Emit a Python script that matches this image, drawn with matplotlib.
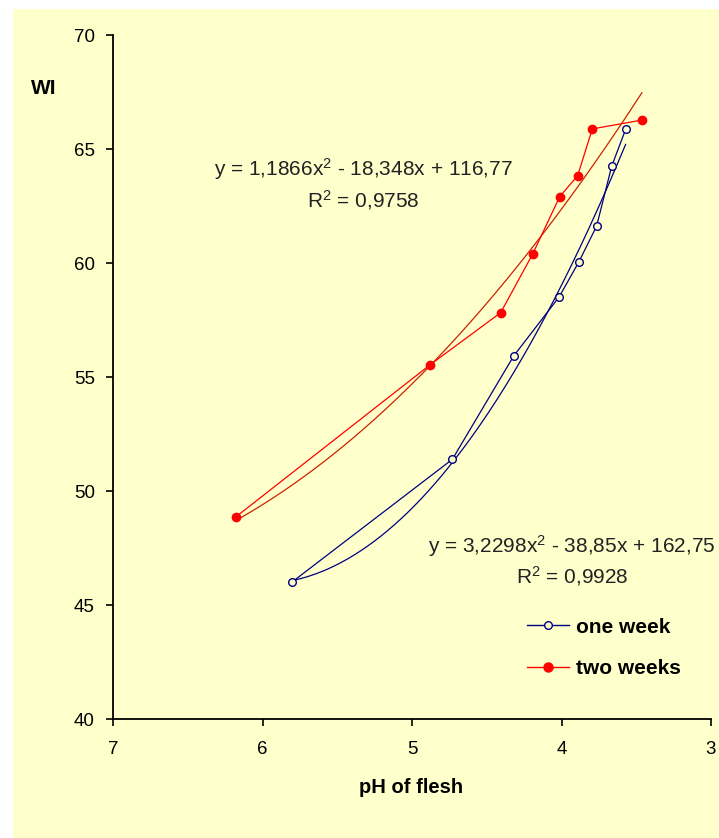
import matplotlib
matplotlib.use("Agg")
import matplotlib.pyplot as plt
import numpy as np
from matplotlib.lines import Line2D

# ---- data ----
ph_one_week = [5.80, 4.73, 4.32, 4.015, 3.883, 3.765, 3.664, 3.571]
wi_one_week = [46.02, 51.39, 55.92, 58.52, 60.06, 61.62, 64.25, 65.86]
ph_two_weeks = [6.177, 4.88, 4.407, 4.193, 4.012, 3.892, 3.794, 3.462]
wi_two_weeks = [48.87, 55.53, 57.82, 60.39, 62.91, 63.83, 65.88, 66.27]
coef_one_week = [3.2298, -38.85, 162.75]
coef_two_weeks = [1.1866, -18.348, 116.77]
eq_one_week = "y = 3,2298x$^2$ - 38,85x + 162,75\nR$^2$ = 0,9928"
eq_two_weeks = "y = 1,1866x$^2$ - 18,348x + 116,77\nR$^2$ = 0,9758"
series_labels = ["one week", "two weeks"]
x_ticks = [7, 6, 5, 4, 3]
y_ticks = [40, 45, 50, 55, 60, 65, 70]

BG = "#FFFFCC"
NAVY = "#000080"
RED = "#FF0000"
TREND_RED = "#CC2200"
FONT = ["Liberation Sans", "DejaVu Sans"]

plt.rcParams["font.family"] = FONT
plt.rcParams["mathtext.fontset"] = "custom"
plt.rcParams["mathtext.rm"] = "Liberation Sans"
plt.rcParams["mathtext.it"] = "Liberation Sans"
plt.rcParams["mathtext.default"] = "regular"

fig = plt.figure(figsize=(7.19, 8.38), dpi=100, facecolor="white")
# yellow chart area with white strip at left/top
fig.patches.append(plt.Rectangle((13 / 719, 0), 1, 1 - 9 / 838, transform=fig.transFigure,
                                 facecolor=BG, edgecolor="none", zorder=-5))

ax = fig.add_axes([113 / 719, 1 - 719 / 838, (711 - 113) / 719, (719 - 35) / 838])
ax.set_facecolor(BG)
ax.patch.set_alpha(0)

# trendlines
xs1 = np.linspace(min(ph_one_week), max(ph_one_week), 200)
ax.plot(xs1, np.polyval(coef_one_week, xs1), color=NAVY, lw=0.9, zorder=2)
xs2 = np.linspace(min(ph_two_weeks), max(ph_two_weeks), 200)
ax.plot(xs2, np.polyval(coef_two_weeks, xs2), color=TREND_RED, lw=0.9, zorder=2)

# data series
ax.plot(ph_one_week, wi_one_week, color=NAVY, lw=0.9, marker="o", markersize=5.5,
        markerfacecolor=BG, markeredgecolor=NAVY, markeredgewidth=1.0, zorder=3)
ax.plot(ph_two_weeks, wi_two_weeks, color=RED, lw=0.9, marker="o", markersize=6,
        markerfacecolor=RED, markeredgecolor=RED, zorder=3)

ax.set_xlim(7, 3)
ax.set_ylim(40, 70)
ax.set_xticks(x_ticks)
ax.set_yticks(y_ticks)
ax.set_xticklabels([str(t) for t in x_ticks])
ax.set_yticklabels([str(t) for t in y_ticks])
ax.tick_params(axis="both", direction="out", length=5, width=1.2, labelsize=13.5, colors="black")
ax.tick_params(axis="x", pad=11)
ax.tick_params(axis="y", pad=8)
for s in ["top", "right"]:
    ax.spines[s].set_visible(False)
for s in ["left", "bottom"]:
    ax.spines[s].set_linewidth(1.3)

# axis labels
fig.text(44 / 719, 1 - 89 / 838, "WI", fontsize=15, fontweight="bold", ha="center", va="center")
fig.text(411 / 719, 1 - 787 / 838, "pH of flesh", fontsize=14.5, fontweight="bold", ha="center",
         va="center")

# equations
ax.text(5.328, 63.45, eq_two_weeks, fontsize=15, ha="center", va="center", multialignment="center",
        linespacing=1.3, color="#222222")
ax.text(3.93, 46.95, eq_one_week, fontsize=15, ha="center", va="center", multialignment="center",
        linespacing=1.3, color="#222222")

# legend
handles = [
    Line2D([], [], color=NAVY, lw=1, marker="o", markersize=5.5, markerfacecolor=BG,
           markeredgecolor=NAVY),
    Line2D([], [], color=RED, lw=1, marker="o", markersize=6.5, markerfacecolor=RED,
           markeredgecolor=RED),
]
leg = fig.legend(handles, series_labels, loc="center left",
                 bbox_to_anchor=(527 / 719, 1 - 648 / 838), frameon=False,
                 borderpad=0, borderaxespad=0,
                 handlelength=2.0, handletextpad=0.35, labelspacing=1.1,
                 prop={"weight": "bold", "size": 15})

fig.savefig("out.png", dpi=100, facecolor="white")
